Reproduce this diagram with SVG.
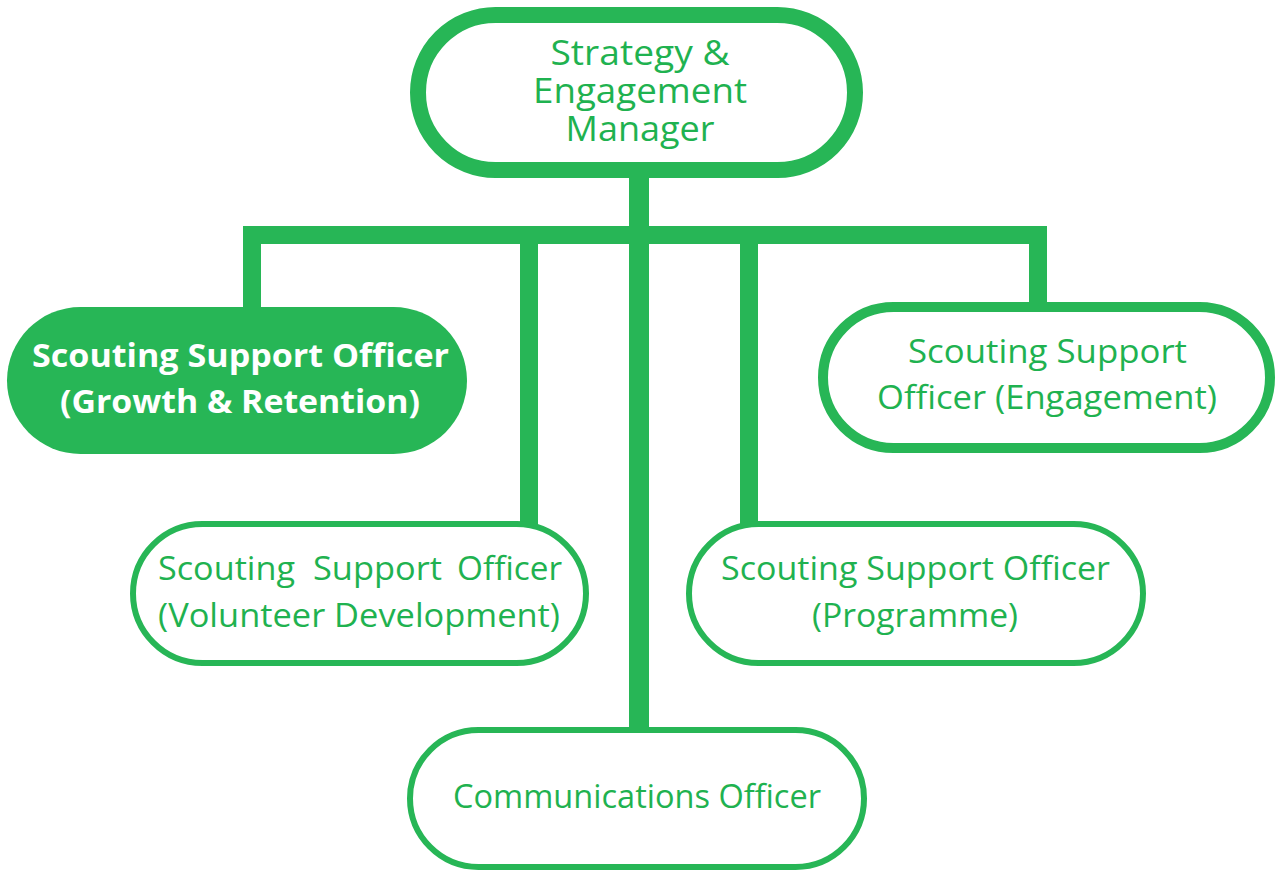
<svg xmlns="http://www.w3.org/2000/svg" width="1277" height="872" viewBox="0 0 1277 872">
  <style>
    .conn { fill: none; stroke: #27b656; stroke-linejoin: miter; stroke-linecap: butt; }
    .box { fill: #ffffff; stroke: #27b656; }
    .t { font-family: "Open Sans", "Noto Sans", sans-serif; fill: #1fb250; text-anchor: middle; }
    .tw { font-family: "Open Sans", "Noto Sans", sans-serif; fill: #ffffff; font-weight: bold; text-anchor: middle; }
  </style>
  <rect width="1277" height="872" fill="#ffffff"/>
  <g id="connectors">
    <path class="conn" stroke-width="18" d="M252,309 V235 H1038 V305"/>
    <path class="conn" stroke-width="20" d="M639,170 V732"/>
    <path class="conn" stroke-width="18" d="M529,235 V526"/>
    <path class="conn" stroke-width="18" d="M749,235 V526"/>
  </g>
  <g id="node-manager">
    <rect class="box" stroke-width="16" x="418" y="15" width="437" height="155" rx="77.5"/>
    <text class="t" font-size="35" x="640" y="65" textLength="179" lengthAdjust="spacingAndGlyphs">Strategy &amp;</text>
    <text class="t" font-size="35" x="640" y="103" textLength="214" lengthAdjust="spacingAndGlyphs">Engagement</text>
    <text class="t" font-size="35" x="640" y="141" textLength="149" lengthAdjust="spacingAndGlyphs">Manager</text>
  </g>
  <g id="node-growth">
    <rect x="7" y="307" width="460" height="147" rx="73.5" fill="#27b656"/>
    <text class="tw" font-size="32" x="240.5" y="367" textLength="417" lengthAdjust="spacingAndGlyphs">Scouting Support Officer</text>
    <text class="tw" font-size="32" x="240" y="413" textLength="360" lengthAdjust="spacingAndGlyphs">(Growth &amp; Retention)</text>
  </g>
  <g id="node-engagement">
    <rect class="box" stroke-width="10" x="823" y="307" width="447" height="141" rx="70.5"/>
    <text class="t" font-size="32" x="1047.5" y="363" textLength="279" lengthAdjust="spacingAndGlyphs">Scouting Support</text>
    <text class="t" font-size="32" x="1047" y="409" textLength="340" lengthAdjust="spacingAndGlyphs">Officer (Engagement)</text>
  </g>
  <g id="node-volunteer">
    <rect class="box" stroke-width="6" x="133" y="524" width="453" height="139" rx="69.5"/>
    <text class="t" font-size="32" x="226.5" y="580" textLength="137" lengthAdjust="spacingAndGlyphs">Scouting</text>
    <text class="t" font-size="32" x="377.5" y="580" textLength="129" lengthAdjust="spacingAndGlyphs">Support</text>
    <text class="t" font-size="32" x="509.5" y="580" textLength="105" lengthAdjust="spacingAndGlyphs">Officer</text>
    <text class="t" font-size="32" x="359" y="627" textLength="402" lengthAdjust="spacingAndGlyphs">(Volunteer Development)</text>
  </g>
  <g id="node-programme">
    <rect class="box" stroke-width="6" x="689" y="524" width="454" height="139" rx="69.5"/>
    <text class="t" font-size="32" x="915.5" y="580" textLength="389" lengthAdjust="spacingAndGlyphs">Scouting Support Officer</text>
    <text class="t" font-size="32" x="915" y="627" textLength="206" lengthAdjust="spacingAndGlyphs">(Programme)</text>
  </g>
  <g id="node-communications">
    <rect class="box" stroke-width="6" x="410" y="730" width="454" height="137" rx="68.5"/>
    <text class="t" font-size="32" x="637" y="808" textLength="368" lengthAdjust="spacingAndGlyphs">Communications Officer</text>
  </g>
</svg>
